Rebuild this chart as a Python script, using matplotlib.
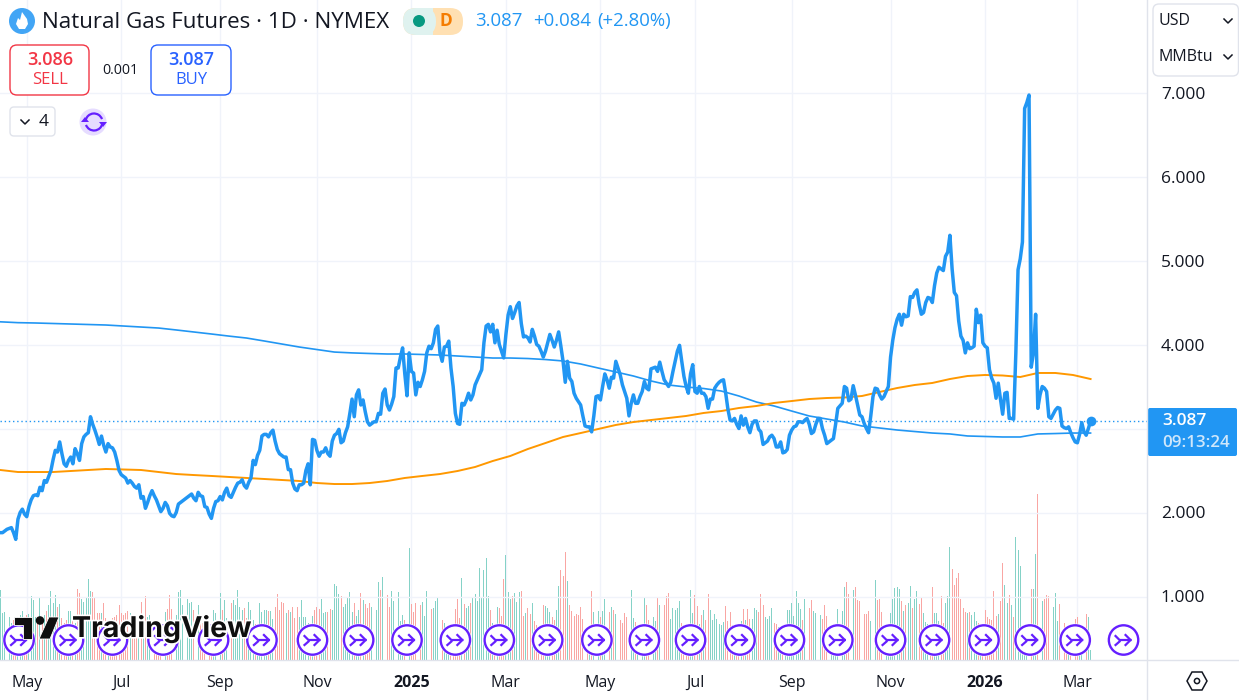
"""
Natural Gas Futures, 1D, NYMEX : line chart with two moving averages and volume
"""
import numpy as np
import pandas as pd
import matplotlib

matplotlib.use("Agg")
import matplotlib.pyplot as plt
import matplotlib.patheffects as pe
from matplotlib.patches import Circle, FancyBboxPatch, Polygon, Arc, Rectangle
from matplotlib.transforms import ScaledTranslation

plt.rcParams["font.family"] = ["Open Sans", "DejaVu Sans"]

# daily closes, one per session from 2024-04-15
closes_a = [
    1.76, 1.76, 1.78, 1.80, 1.81, 1.82, 1.76, 1.68, 1.92, 2.00, 2.04, 1.98, 1.95, 2.07, 2.15, 2.20, 2.21, 2.20, 2.30, 2.26,
    2.38, 2.36, 2.43, 2.50, 2.63, 2.74, 2.72, 2.84, 2.70, 2.58, 2.55, 2.62, 2.66, 2.58, 2.76, 2.70, 2.62, 2.82, 2.90, 2.93,
    2.95, 3.14, 3.05, 2.98, 2.90, 2.81, 2.91, 2.80, 2.72, 2.82, 2.78, 2.77, 2.72, 2.62, 2.50, 2.45, 2.43, 2.41, 2.35, 2.38,
    2.35, 2.31, 2.29, 2.33, 2.17, 2.19, 2.05, 2.12, 2.20, 2.26, 2.20, 2.15, 2.08, 2.01, 2.05, 2.12, 2.08, 1.99, 1.96, 1.95,
    2.00, 2.10, 2.12, 2.14, 2.16, 2.18, 2.20, 2.22, 2.17, 2.14, 2.24, 2.20, 2.19, 2.07, 2.06, 1.98, 1.93, 2.05, 2.13, 2.14,
]
closes_b = [
    2.19, 2.15, 2.24, 2.29, 2.20, 2.18, 2.24, 2.30, 2.35, 2.36, 2.39, 2.32, 2.29, 2.36, 2.41, 2.62, 2.57, 2.68, 2.74, 2.91,
    2.93, 2.93, 2.90, 2.95, 2.98, 2.85, 2.75, 2.70, 2.68, 2.66, 2.66, 2.51, 2.51, 2.35, 2.28, 2.26, 2.33, 2.33, 2.35, 2.50,
    2.58, 2.33, 2.87, 2.86, 2.74, 2.67, 2.72, 2.72, 2.77, 2.70, 2.67, 2.85, 2.92, 2.94, 2.99, 2.83, 2.85, 2.95, 3.02, 3.18,
    3.35, 3.14, 3.40, 3.46, 3.28, 3.34, 3.20, 3.08, 3.04, 3.06, 3.08, 3.08, 3.18, 3.17, 3.42, 3.47, 3.28, 3.22, 3.29, 3.38,
    3.72, 3.72, 3.85, 3.96, 3.65, 3.39, 3.90, 3.68, 3.66, 3.40, 3.55, 3.50, 3.58, 3.68, 3.90, 3.98, 3.95, 4.02, 4.18, 4.22,
]
closes_c = [
    3.90, 3.80, 3.97, 3.98, 4.04, 3.72, 3.50, 3.18, 3.06, 3.05, 3.30, 3.28, 3.34, 3.42, 3.34, 3.40, 3.52, 3.58, 3.64, 3.70,
    4.02, 4.22, 4.24, 4.15, 4.24, 4.02, 4.17, 4.00, 3.92, 3.84, 4.12, 4.35, 4.45, 4.31, 4.38, 4.46, 4.50, 4.25, 4.09, 4.10,
    4.08, 4.03, 4.18, 4.10, 4.00, 3.98, 3.92, 3.85, 3.92, 4.02, 4.12, 4.05, 3.97, 4.05, 4.15, 3.98, 3.80, 3.55, 3.80, 3.60,
    3.56, 3.42, 3.36, 3.32, 3.28, 3.15, 3.03, 3.02, 3.02, 2.96, 3.15, 3.38, 3.39, 3.34, 3.50, 3.65, 3.58, 3.48, 3.61, 3.60,
    3.80, 3.72, 3.64, 3.52, 3.44, 3.36, 3.15, 3.30, 3.40, 3.30, 3.30, 3.38, 3.44, 3.56, 3.48, 3.46, 3.71, 3.72, 3.73, 3.68,
]
closes_d = [
    3.79, 3.68, 3.58, 3.54, 3.50, 3.55, 3.68, 3.80, 3.92, 3.99, 3.80, 3.62, 3.50, 3.42, 3.65, 3.76, 3.44, 3.42, 3.50, 3.42,
    3.42, 3.38, 3.24, 3.35, 3.35, 3.48, 3.52, 3.55, 3.57, 3.58, 3.42, 3.23, 3.10, 3.09, 3.12, 3.05, 3.00, 3.15, 3.04, 3.12,
    3.02, 2.95, 3.05, 3.09, 3.09, 2.99, 2.96, 2.81, 2.83, 2.85, 2.90, 2.92, 2.88, 2.78, 2.78, 2.84, 2.71, 2.72, 2.75, 2.92,
    2.98, 3.02, 3.03, 3.08, 3.08, 3.07, 3.10, 3.12, 3.05, 2.94, 2.96, 3.05, 3.12, 3.12, 3.00, 2.92, 2.82, 2.84, 2.86, 2.88,
    3.05, 3.24, 3.27, 3.30, 3.50, 3.48, 3.33, 3.35, 3.51, 3.40, 3.28, 3.16, 3.14, 3.06, 3.00, 2.95, 3.15, 3.38, 3.48, 3.47,
]
closes_e = [
    3.40, 3.35, 3.38, 3.44, 3.50, 3.85, 4.05, 4.20, 4.30, 4.36, 4.23, 4.36, 4.33, 4.34, 4.57, 4.56, 4.62, 4.65, 4.48, 4.36,
    4.38, 4.50, 4.56, 4.55, 4.50, 4.70, 4.85, 4.92, 4.90, 4.88, 5.05, 5.10, 5.30, 4.90, 4.62, 4.58, 4.28, 4.10, 4.05, 3.90,
    4.02, 3.95, 3.96, 3.98, 4.42, 4.26, 4.35, 4.02, 3.98, 3.96, 3.70, 3.60, 3.54, 3.36, 3.54, 3.35, 3.17, 3.42, 3.43, 3.12,
    3.12, 3.11, 3.90, 4.89, 5.02, 5.22, 6.81, 6.88, 6.97, 3.73, 3.90, 4.36, 3.24, 3.40, 3.50, 3.48, 3.44, 3.14, 3.12, 3.17,
    3.22, 3.25, 3.24, 3.03, 3.01, 3.00, 3.02, 2.95, 2.89, 2.84, 2.83, 2.93, 3.07, 2.96, 2.92, 3.00, 3.087,
]
closes = np.array(closes_a + closes_b + closes_c + closes_d + closes_e)

# volume per session, scale of the hidden volume axis
volume_a = [
    70, 47, 48, 47, 43, 37, 40, 42, 43, 45, 49, 43, 45, 46, 64, 60, 43, 43, 63, 40, 45, 49, 55, 69, 57, 65, 53, 56, 42, 37,
    40, 49, 49, 43, 37, 71, 67, 61, 58, 63, 81, 69, 68, 62, 47, 47, 47, 57, 42, 37, 40, 42, 43, 45, 55, 47, 45, 47, 49, 47,
    40, 40, 40, 40, 58, 43, 64, 43, 45, 46, 37, 36, 35, 35, 50, 48, 51, 65, 51, 40, 45, 68, 70, 55, 55, 61, 57, 58, 50, 45,
    55, 42, 37, 35, 33, 32, 34, 50, 47, 45, 67, 50, 60, 42, 58, 57, 60, 55, 70, 53, 50, 52, 42, 58, 50, 40, 36, 34, 57, 48,
    50, 50, 49, 49, 41, 53, 66, 50, 58, 57, 47, 50, 48, 53, 42, 53, 43, 60, 43, 43, 37, 36, 44, 50, 53, 51, 61, 47, 48, 48,
    51, 50, 76, 74, 66, 64, 53, 56, 63, 68, 48, 57, 44, 50, 67, 60, 56, 52, 57, 53, 57, 50, 78, 70, 83, 99, 65, 53, 69, 59,
    59, 68, 39, 45, 40, 58, 112,
]
volume_b = [
    56, 48, 57, 69, 55, 58, 44, 69, 59, 51, 52, 59, 62, 64, 40, 37, 30, 28, 30, 35, 51, 61, 42, 82, 56, 52, 54, 57, 62, 66,
    59, 92, 62, 90, 102, 64, 50, 37, 33, 53, 52, 44, 81, 105, 68, 61, 64, 67, 58, 68, 69, 44, 47, 52, 46, 57, 39, 35, 33, 30,
    55, 54, 52, 48, 43, 40, 50, 74, 90, 84, 108, 79, 55, 49, 44, 46, 45, 53, 41, 35, 30, 33, 69, 48, 45, 49, 43, 49, 61, 50,
    48, 53, 50, 46, 46,
]
volume_c = [
    40, 37, 47, 43, 56, 70, 42, 38, 33, 30, 28, 62, 55, 40, 61, 43, 39, 63, 55, 65, 55, 64, 67, 41, 52, 50, 52, 59, 37, 35,
    33, 30, 70, 47, 65, 54, 36, 45, 50, 40, 66, 50, 40, 46, 41, 36, 35, 38, 54, 39, 48, 35, 33, 32, 32, 39, 51, 40, 51, 41,
    41, 52, 50, 48, 66, 55, 43, 41, 44, 52, 37, 36, 33, 32, 33, 35, 50, 50, 57, 44, 69, 57, 51, 40, 61, 55, 52, 60, 49, 47,
    51, 45, 41, 55, 44, 50,
]
volume_d = [
    33, 35, 36, 51, 51, 49, 73, 78, 66, 50, 70, 73, 60, 59, 59, 46, 46, 49, 39, 39, 80, 60, 61, 48, 33, 32, 33, 47, 61, 72,
    73, 71, 59, 49, 55, 57, 74, 52, 61, 69, 56, 62, 47, 38, 36, 34, 73, 47, 47, 39, 64, 37, 57, 64, 113, 91, 75, 82, 87, 61,
    52, 48, 47, 48, 45, 48, 39, 37, 35, 34, 50, 43, 41, 40, 69, 44, 46, 59, 97, 75, 57, 65, 55, 43, 123, 110, 94, 33, 33, 34,
    33, 71, 71, 106, 166, 72, 59, 61, 65, 64, 54, 53, 67, 39, 56, 44, 37, 33, 32, 33, 34, 41, 43, 35, 34, 53, 46, 43, 10,
]
volumes = np.array(volume_a + volume_b + volume_c + volume_d)

# moving averages, one value every 8 sessions
ma_blue = [
    4.270, 4.260, 4.256, 4.250, 4.244, 4.238, 4.232, 4.220, 4.208, 4.196, 4.173, 4.149, 4.125, 4.100, 4.077, 4.042,
    4.006, 3.970, 3.940, 3.910, 3.900, 3.893, 3.887, 3.887, 3.881, 3.875, 3.863, 3.851, 3.839, 3.839, 3.833, 3.821,
    3.804, 3.768, 3.720, 3.673, 3.625, 3.566, 3.518, 3.494, 3.476, 3.446, 3.387, 3.315, 3.268, 3.208, 3.149, 3.113,
    3.077, 3.030, 3.006, 2.982, 2.964, 2.946, 2.935, 2.911, 2.905, 2.899, 2.899, 2.935, 2.940, 2.946, 2.946,
]
ma_orange = [
    2.506, 2.482, 2.482, 2.482, 2.494, 2.506, 2.518, 2.512, 2.506, 2.482, 2.458, 2.446, 2.435, 2.423, 2.411, 2.399,
    2.387, 2.375, 2.351, 2.339, 2.339, 2.351, 2.375, 2.411, 2.435, 2.458, 2.494, 2.542, 2.613, 2.673, 2.756, 2.827,
    2.899, 2.946, 2.994, 3.042, 3.077, 3.101, 3.125, 3.149, 3.185, 3.208, 3.244, 3.268, 3.304, 3.327, 3.351, 3.363,
    3.369, 3.387, 3.435, 3.482, 3.518, 3.542, 3.589, 3.625, 3.637, 3.631, 3.613, 3.661, 3.661, 3.637, 3.589,
]

price_ticks = [1, 2, 3, 4, 5, 6, 7]
month_dates = ["2024-05-01", "2024-07-01", "2024-09-02", "2024-11-01", "2025-01-01", "2025-03-03",
               "2025-05-01", "2025-07-01", "2025-09-01", "2025-11-03", "2026-01-01", "2026-03-02"]
month_labels = ["May", "Jul", "Sep", "Nov", "2025", "Mar", "May", "Jul", "Sep", "Nov", "2026", "Mar"]
# session of each roll marker along the bottom
roll_sessions = [8.5, 31, 51, 74, 97, 119, 142, 163, 185, 207, 227, 249, 271.4, 293, 314, 336.5,
                 359, 381, 405, 425, 447.5, 468.5, 489, 511]

BLUE = "#2196f3"
ORANGE = "#ff9800"
PURPLE = "#651fff"
GRID = "#f0f3fa"
BORDER = "#e0e3eb"
INK = "#131722"
W, H, AXIS_X, AXIS_Y = 1239, 700, 1147, 660
PX_PER_SESSION = 2.198
X0 = -0.37 / PX_PER_SESSION

assert len(closes) == 497, len(closes)
assert len(volumes) == 497, len(volumes)

dates = pd.bdate_range("2024-04-15", periods=len(closes))
sessions = np.arange(len(closes))
month_pos = [dates.searchsorted(pd.Timestamp(d)) for d in month_dates]
ma_sessions = sessions[::8]

fig = plt.figure(figsize=(W / 100, H / 100), dpi=100, facecolor="white")
rect = [0, (H - AXIS_Y) / H, AXIS_X / W, AXIS_Y / H]

# volume underneath
ax_vol = fig.add_axes(rect, zorder=1)
ax_vol.set_xlim(X0, X0 + AXIS_X / PX_PER_SESSION)
ax_vol.set_ylim(0, AXIS_Y)
ax_vol.set_yticks([])
ax_vol.set_xticks(month_pos)
ax_vol.set_xticklabels([])
ax_vol.tick_params(length=0)
ax_vol.grid(axis="x", color=GRID, lw=1)
ax_vol.set_axisbelow(True)
for s in ax_vol.spines.values():
    s.set_visible(False)
up = np.r_[True, closes[1:] >= closes[:-1]]
ax_vol.bar(sessions, volumes, width=0.42, color=np.where(up, "#85d2c7", "#f9a6a3"), linewidth=0, antialiased=False)

# price
ax = fig.add_axes(rect, zorder=2)
ax.patch.set_visible(False)
ax.set_xlim(X0, X0 + AXIS_X / PX_PER_SESSION)
ax.set_ylim(1 + (596.5 - AXIS_Y) / 84, 1 + 596.5 / 84)
ax.yaxis.tick_right()
ax.set_yticks(price_ticks)
ax.set_yticklabels([f"{v:.3f}" for v in price_ticks], fontsize=12.5, color=INK)
up_1px = ScaledTranslation(0, 1 / 100, fig.dpi_scale_trans)
for lab in ax.get_yticklabels():
    lab.set_transform(lab.get_transform() + up_1px)
ax.set_xticks(month_pos)
ax.set_xticklabels(month_labels, fontsize=11.5, color=INK)
for lab, txt in zip(ax.get_xticklabels(), month_labels):
    if txt.startswith("20"):
        lab.set_fontweight("bold")
ax.tick_params(axis="y", length=0, pad=10)
ax.tick_params(axis="x", length=0, pad=10.5)
ax.grid(axis="y", color=GRID, lw=1)
ax.set_axisbelow(True)
for s in ax.spines.values():
    s.set_visible(False)
ax.axhline(closes[-1], color=BLUE, lw=1, ls=(0, (1, 2)), zorder=2)
ax.plot(ma_sessions, ma_blue, color=BLUE, lw=1.2, zorder=3, solid_joinstyle="round")
ax.plot(ma_sessions, ma_orange, color=ORANGE, lw=1.4, zorder=3, solid_joinstyle="round")
ax.plot(sessions, closes, color=BLUE, lw=2.5, zorder=4, solid_joinstyle="round")
ax.plot(sessions[-1], closes[-1], "o", color=BLUE, ms=7, zorder=5, mew=0)

# everything around the chart, in pixels
ui = fig.add_axes([0, 0, 1, 1], zorder=3)
ui.set_xlim(0, W)
ui.set_ylim(H, 0)
ui.axis("off")
ui.plot([AXIS_X, AXIS_X], [0, H], color=BORDER, lw=1)
ui.plot([0, W], [AXIS_Y, AXIS_Y], color=BORDER, lw=1)


def box(x0, y0, x1, y1, r=5, **kw):
    ui.add_patch(FancyBboxPatch((x0 + r, y0 + r), x1 - x0 - 2 * r, y1 - y0 - 2 * r,
                                boxstyle=f"round,pad={r},rounding_size={r}", **kw))


def chevron(x, y, color=INK):
    ui.plot([x - 4, x, x + 4], [y - 2, y + 2, y - 2], color=color, lw=1.1)


def label(x, y, s, size=11, color=INK, ha="center", **kw):
    ui.text(x, y, s, fontsize=size, color=color, ha=ha, va="center", **kw)


# roll markers
for sess in roll_sessions:
    cx = (sess - X0) * PX_PER_SESSION
    cy = 640
    ui.add_patch(Circle((cx, cy), 16.5, fc="white", ec="none", alpha=0.9, zorder=3))
    ui.add_patch(Circle((cx, cy), 14.7, fc="white", ec=PURPLE, lw=1.7, zorder=3))
    ui.plot([cx - 8, cx - 4, cx + 7], [cy - 4, cy, cy], color=PURPLE, lw=1.6, zorder=3)
    ui.plot([cx + 2, cx + 7, cx + 2], [cy - 5, cy, cy + 5], color=PURPLE, lw=1.6, zorder=3)
    ui.plot([cx - 8, cx - 4], [cy + 5, cy + 1.5], color=PURPLE, lw=1.6, zorder=3)

# logo
halo = [pe.withStroke(linewidth=2.5, foreground="white")]
LOGO = "#0f0f0f"
for pts in ([(14, 617), (32, 617), (32, 639), (23, 639), (23, 625), (14, 625)],
            [(59, 617), (49, 617), (39, 639), (50, 639)]):
    ui.add_patch(Polygon(pts, closed=True, fc=LOGO, ec="white", lw=0.6, zorder=6))
ui.add_patch(Circle((40, 620.5), 4.3, fc=LOGO, ec="none", zorder=6))
ui.text(72, 629, "TradingView", fontsize=20.6, fontweight="bold", family="Inter", color=LOGO,
        ha="left", va="center", zorder=6, path_effects=halo)

# header
ui.add_patch(Circle((22, 21), 13, fc="#42a5f5", ec="none"))
ui.add_patch(Polygon([(22, 12), (27, 19), (28, 24), (25, 29), (19, 29), (16, 24), (18, 18), (20, 20)],
                     closed=True, fc="white", ec="none"))
label(42, 22, "Natural Gas Futures · 1D · NYMEX", size=16.15, ha="left")
box(403, 8, 463, 35, r=13, fc="#ffe0b2", ec="none")
box(403, 8, 436, 35, r=13, fc="#dff2ef", ec="none")
ui.add_patch(Rectangle((420, 8), 13, 27, fc="#dff2ef", ec="none"))
ui.add_patch(Circle((419, 21), 6, fc="#089981", ec="none"))
label(446, 21, "D", size=12.5, color="#f57c00", fontweight="bold")
label(475, 21, "3.087", size=13.4, color=BLUE, ha="left")
label(533, 21, "+0.084", size=13.4, color=BLUE, ha="left")
label(597, 21, "(+2.80%)", size=13.4, color=BLUE, ha="left")

# sell / buy
box(10, 45, 89, 95, r=7, fc="white", ec="#f23645", lw=1)
label(50, 60, "3.086", size=13, color="#f23645", fontweight="semibold")
label(50, 80, "SELL", size=12, color="#f23645")
label(120, 71, "0.001", size=10.3, color=INK)
box(151, 45, 231, 95, r=7, fc="white", ec="#2962ff", lw=1)
label(191, 60, "3.087", size=13, color="#2962ff", fontweight="semibold")
label(191, 80, "BUY", size=12, color="#2962ff")

# collapsed indicators
box(10, 107, 55, 136, r=4, fc="white", ec=BORDER, lw=1)
chevron(25, 122)
label(44, 122, "4", size=12.5)
ui.add_patch(Circle((93, 122), 13.5, fc="#e6dcff", ec="none"))
ui.add_patch(Arc((94, 122), 17, 17, theta1=190, theta2=340, ec=PURPLE, lw=1.6))
ui.add_patch(Arc((94, 122), 17, 17, theta1=10, theta2=160, ec=PURPLE, lw=1.6))
ui.add_patch(Polygon([(99, 122), (107, 122), (103, 127)], closed=True, fc=PURPLE, ec="none"))
ui.add_patch(Polygon([(81, 122), (89, 122), (85, 117)], closed=True, fc=PURPLE, ec="none"))

# currency / unit
box(1153, 4, 1238.5, 76, r=6, fc="white", ec=BORDER, lw=1)
label(1158, 21, "USD", size=11.5, ha="left")
chevron(1228, 21)
label(1158, 57, "MMBtu", size=11.5, ha="left")
chevron(1228, 57)

# last price label
box(1148, 408, 1237, 456, r=2, fc=BLUE, ec="none")
label(1162, 421, "3.087", size=12.5, color="white", fontweight="semibold", ha="left")
label(1162, 443, "09:13:24", size=12.2, color="#cfe7fb", fontweight="semibold", ha="left")

# settings hexagon
hx, hy = 1197, 681
ui.add_patch(Polygon([(hx - 10, hy), (hx - 5, hy - 9), (hx + 5, hy - 9), (hx + 10, hy), (hx + 5, hy + 9), (hx - 5, hy + 9)],
                     closed=True, fc="none", ec=INK, lw=1.1))
ui.add_patch(Circle((hx, hy), 2.6, fc="none", ec=INK, lw=1.1))

fig.savefig("out.png", dpi=100)
